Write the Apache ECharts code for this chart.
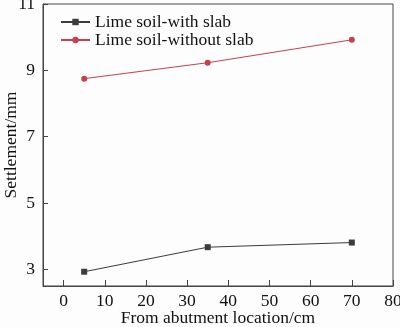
<!DOCTYPE html>
<html>
<head>
<meta charset="utf-8">
<script src="https://cdn.jsdelivr.net/npm/echarts@6/dist/echarts.min.js"></script>
<style>
html,body{margin:0;padding:0;background:#fdfdfd;}
#c{width:400px;height:327px;}
</style>
</head>
<body>
<div id="c"></div>
<script>
const xPositions = [5, 35, 70];
const withSlab = [2.93, 3.67, 3.81];
const withoutSlab = [8.75, 9.23, 9.92];
const xTicks = [0, 10, 20, 30, 40, 50, 60, 70, 80];
const yTicks = [3, 5, 7, 9, 11];
const seriesNames = ['Lime soil-with slab', 'Lime soil-without slab'];

const font = 'Liberation Serif, Times New Roman, serif';
const fs = 17.5;
const chart = echarts.init(document.getElementById('c'));
chart.setOption({
  backgroundColor: '#fdfdfd',
  animation: false,
  grid: { left: 43, right: 7, top: 4, bottom: 41, outerBoundsMode: 'none', containLabel: false, show: true, borderColor: '#444', borderWidth: 1, backgroundColor: 'transparent' },
  legend: {
    orient: 'vertical', left: 60, top: 13, padding: 0, itemWidth: 29, itemHeight: 8, itemGap: 0,
    textStyle: { fontFamily: font, fontSize: fs, lineHeight: 17, color: '#111' },
    data: seriesNames
  },
  xAxis: {
    type: 'value', min: -5, max: 80,
    name: 'From abutment location/cm', nameLocation: 'middle', nameGap: 23, nameMoveOverlap: false,
    nameTextStyle: { fontFamily: font, fontSize: fs, color: '#111' },
    axisLine: { onZero: false, lineStyle: { color: '#444', width: 1 } },
    axisTick: { inside: true, length: 6, customValues: xTicks, lineStyle: { color: '#444' } },
    axisLabel: { customValues: xTicks, fontFamily: font, fontSize: fs, color: '#111', margin: 6 },
    splitLine: { show: false }
  },
  yAxis: {
    type: 'value', min: 2.5, max: 11,
    name: 'Settlement/mm', nameLocation: 'middle', nameGap: 23, nameMoveOverlap: false,
    nameTextStyle: { fontFamily: font, fontSize: fs, color: '#111' },
    axisLine: { show: true, onZero: false, lineStyle: { color: '#444', width: 1 } },
    axisTick: { show: true, inside: true, length: 5, customValues: yTicks, lineStyle: { color: '#444' } },
    axisLabel: { customValues: yTicks, fontFamily: font, fontSize: fs, color: '#111', margin: 8 },
    splitLine: { show: false }
  },
  series: [
    {
      name: seriesNames[0], type: 'line',
      data: xPositions.map((x, i) => [x, withSlab[i]]),
      symbol: 'rect', symbolSize: 6,
      itemStyle: { color: '#3c3c3c' },
      lineStyle: { color: '#3c3c3c', width: 1 }
    },
    {
      name: seriesNames[1], type: 'line',
      data: xPositions.map((x, i) => [x, withoutSlab[i]]),
      symbol: 'circle', symbolSize: 6,
      itemStyle: { color: '#c8404c' },
      lineStyle: { color: '#c8404c', width: 1 }
    }
  ]
});
</script>
</body>
</html>
